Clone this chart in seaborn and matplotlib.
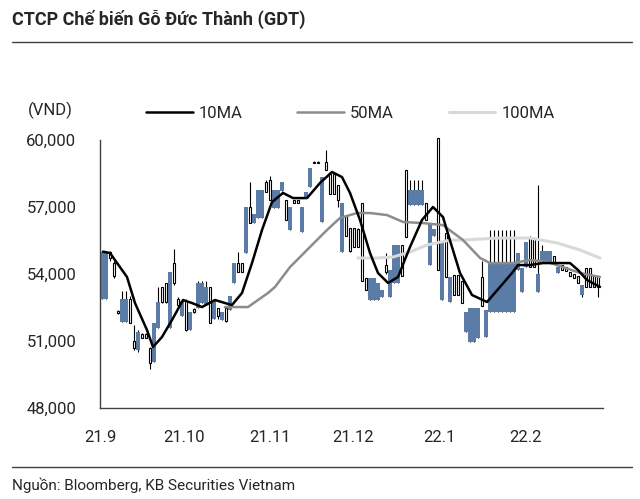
import numpy as np
import pandas as pd
import matplotlib
matplotlib.use("Agg")
import matplotlib.pyplot as plt
from matplotlib.lines import Line2D
import seaborn as sns

# daily prices (VND)
opens = [55000, 55000, 54700, 53900, 52250, 52900, 52900, 51800, 50700, 51400,
         51150, 51150, 50000, 51800, 52750, 52750, 52750, 54100, 53600, 52600,
         52800, 51500, 52300, 52300, 53600, 53600, 53400, 51800, 52800, 52100,
         52300, 51900, 53000, 54500, 54100, 54100, 57000, 56300, 56700, 57750,
         57750, 57650, 57300, 57750, 57750, 58100, 56400, 57000, 57200, 57200,
         57000, 57650, 58750, 58950, 58950, 58350, 58650, 57600, 57600, 57300,
         57200, 55700, 55050, 55200, 55200, 53700, 53300, 53800, 53800, 53600,
         53300, 54100, 54200, 55300, 55300, 53900, 55650, 57750, 57750, 57750,
         57750, 56400, 56300, 56000, 54200, 55450, 53870, 53870, 53050, 53050,
         52700, 52300, 52500, 52500, 52500, 52550, 52400, 54500, 54500, 54500,
         54500, 54500, 54500, 54500, 54950, 54250, 55450, 54300, 54300, 54000,
         55050, 55050, 55050, 54500, 54300, 54200, 54150, 53900, 53800, 53600,
         53500, 53400, 53400, 53400, 53400]
highs = [55000, 55000, 55050, 54600, 52400, 53250, 53250, 53000, 51700, 51500,
         51350, 51350, 50750, 51800, 53400, 53400, 53600, 54100, 55100, 52950,
         52800, 52900, 52300, 52500, 53700, 53700, 53700, 53400, 52800, 52500,
         52300, 52500, 53000, 54500, 55000, 54500, 57000, 58100, 56700, 57750,
         57750, 58200, 58400, 57750, 57750, 58100, 57300, 57000, 57300, 57300,
         57000, 57650, 58750, 59050, 59050, 58350, 59550, 58500, 58500, 58000,
         57200, 56600, 56050, 56050, 56050, 57200, 53800, 53800, 53800, 53600,
         53300, 54950, 54200, 55300, 55300, 55300, 58650, 58200, 58200, 58200,
         58200, 57200, 56300, 56000, 60100, 55450, 55840, 53870, 53950, 53950,
         53700, 52300, 52500, 52500, 52500, 54600, 52400, 55970, 55970, 55970,
         55970, 55970, 55970, 55970, 54950, 54250, 55450, 55700, 55600, 58000,
         55300, 55050, 55050, 54800, 54300, 54400, 54300, 54100, 54000, 53900,
         53500, 54250, 54250, 53900, 53900]
lows = [52900, 52900, 54600, 53800, 52200, 51850, 51850, 51800, 50600, 50500,
        51150, 51150, 49750, 50050, 51600, 52700, 52700, 51600, 53500, 52500,
        52100, 51450, 51500, 52250, 52500, 52700, 52600, 51800, 52000, 52000,
        51950, 51850, 52400, 53600, 54100, 54100, 54950, 56300, 56300, 56500,
        56500, 57650, 57300, 56950, 56950, 57700, 56400, 55950, 57200, 57200,
        55900, 57400, 57900, 58950, 58950, 56350, 58650, 57600, 57600, 57000,
        55000, 55700, 55000, 55200, 55200, 53700, 53300, 52850, 52850, 52850,
        52950, 54000, 52950, 53600, 53600, 53900, 55650, 57100, 57100, 57100,
        57100, 56400, 54400, 55700, 54200, 52850, 53870, 52750, 53050, 53050,
        52700, 51400, 50950, 50950, 51150, 52550, 51200, 52300, 52300, 52300,
        52300, 52300, 52300, 52300, 54200, 53200, 54300, 54300, 54300, 53200,
        54500, 54500, 54500, 54500, 54050, 54200, 54150, 53900, 53800, 53600,
        52970, 53400, 53400, 53400, 52970]
closes = [52900, 52900, 55000, 54500, 52350, 51850, 51850, 52900, 51000, 50600,
          51300, 51300, 50700, 50050, 51600, 53400, 53600, 51600, 54500, 52900,
          52100, 52800, 51500, 52450, 52500, 52700, 52600, 53400, 52000, 52500,
          51950, 52500, 52400, 53600, 54500, 54500, 54950, 57000, 56300, 56500,
          56500, 58100, 58200, 56950, 56950, 57700, 57300, 55950, 57300, 57300,
          55900, 57400, 57900, 59000, 59000, 56350, 59000, 58500, 58500, 58000,
          55000, 56600, 56050, 56050, 56000, 57200, 53800, 52850, 52850, 52850,
          52950, 54400, 52950, 53600, 53600, 55300, 58650, 57100, 57100, 57100,
          57100, 57200, 54400, 55700, 60100, 52850, 55840, 52750, 53950, 53950,
          53700, 51400, 50950, 50950, 51150, 53870, 51200, 52300, 52300, 52300,
          52300, 52300, 52300, 52300, 54200, 53200, 54300, 55600, 55600, 53200,
          54500, 54500, 54500, 54800, 54050, 54400, 54300, 54100, 54000, 53900,
          53050, 54250, 54250, 53900, 53900]

# moving averages, sampled along the curves (trading-day index, VND)
ma10_day = [0.25, 2, 6.25, 8.25, 11.25, 12.75, 15, 17.5, 20.25, 22.5, 25, 28.25,
            30.75, 32.5, 35, 37.5, 40, 42.5, 45.25, 47.75, 51.25, 54.5, 57.5, 60,
            62, 64.5, 67, 69, 71.5, 74, 77, 80, 82.75, 85.25, 87, 89.5, 92.5,
            96.25, 99.5, 102.5, 104, 107, 110.25, 113.75, 117, 119, 121.25, 124.5]
ma10_val = [55000, 54940, 53865, 52700, 51490, 50730, 51180, 51940, 52835, 52700,
            52520, 52835, 52700, 52610, 53150, 54490, 55970, 57220, 57630, 57400,
            57400, 58075, 58570, 58340, 57630, 56420, 54940, 54045, 53600, 53865,
            55210, 56420, 57000, 56550, 55500, 54045, 53060, 52745, 53420, 54045,
            54400, 54400, 54490, 54490, 54490, 54180, 53730, 53420]
ma50_day = [30.75, 36.5, 41.5, 43.25, 47, 52, 56.25, 59.5, 63.75, 67, 71.25,
            75.25, 80.25, 85.25, 90.25, 94.5, 97, 102.75, 107, 111.25, 115.25,
            119.5, 124.5]
ma50_val = [52520, 52520, 53150, 53420, 54310, 55210, 55970, 56510, 56730, 56730,
            56640, 56330, 56280, 56190, 55520, 54720, 54490, 54490, 54630, 54540,
            54310, 54045, 53865]
ma100_day = [64, 68.75, 72.75, 77, 81.25, 87, 90.25, 98.75, 107, 113.75, 119.5, 124.5]
ma100_val = [54715, 54715, 54760, 54985, 55300, 55520, 55520, 55610, 55610, 55390,
             55075, 54715]

month_pos = [-0.5, 20.5, 42, 62.75, 84.25, 105.75, 125.25]
month_labels = ["21.9", "21.10", "21.11", "21.12", "22.1", "22.2", ""]

sns.set_style("white")
plt.rcParams["font.family"] = ["Roboto", "DejaVu Sans"]

blue = "#5b7ca6"
df = pd.DataFrame({"day": np.arange(len(opens)), "open": opens, "high": highs,
                   "low": lows, "close": closes})
down = df[df["close"] < df["open"]]
up = df[df["close"] >= df["open"]]

fig = plt.figure(figsize=(6.4, 4.99), dpi=100)
ax = fig.add_axes([100 / 640, 1 - 408 / 499, 503 / 640, 268 / 499])

ax.vlines(df["day"], df["low"], df["high"], color="black", lw=0.8, zorder=1.5,
          clip_on=False)
ax.bar(down["day"], down["open"] - down["close"], bottom=down["close"], width=1.0,
       color=blue, linewidth=0, zorder=2)
ax.bar(up["day"], (up["close"] - up["open"]).clip(lower=40), bottom=up["open"],
       width=0.7, facecolor="white", edgecolor="black", linewidth=0.8, zorder=3,
       clip_on=False)

line_kw = dict(solid_joinstyle="round", solid_capstyle="round")
sns.lineplot(x=ma100_day, y=ma100_val, ax=ax, color="#d9d9d9", lw=2.2, zorder=4, **line_kw)
sns.lineplot(x=ma50_day, y=ma50_val, ax=ax, color="#8c8c8c", lw=1.8, zorder=5, **line_kw)
sns.lineplot(x=ma10_day, y=ma10_val, ax=ax, color="black", lw=1.8, zorder=6, **line_kw)

ax.set_xlim(-0.5, 125.25)
ax.set_ylim(48000, 60000)
ax.set_yticks(range(48000, 60001, 3000))
ax.set_yticklabels([f"{v:,}" for v in range(48000, 60001, 3000)], fontsize=12)
ax.set_xticks(month_pos)
ax.set_xticklabels(month_labels, fontsize=12)
ax.tick_params(axis="y", direction="inout", length=6, pad=14, color="#404040")
ax.tick_params(axis="x", direction="in", length=5, pad=16, color="#404040")
for s in ["top", "right"]:
    ax.spines[s].set_visible(False)
for s in ["left", "bottom"]:
    ax.spines[s].set_color("#404040")
    ax.spines[s].set_linewidth(1.0)

# legend
handles = [Line2D([], [], color="black", lw=1.8),
           Line2D([], [], color="#8c8c8c", lw=1.8),
           Line2D([], [], color="#d9d9d9", lw=2.2)]
fig.legend(handles, ["10MA", "50MA", "100MA"], loc="center left",
           bbox_to_anchor=(146 / 640, 1 - 113 / 499), ncol=3, frameon=False,
           fontsize=12, handlelength=2.8, handletextpad=0.35, columnspacing=3.3,
           borderpad=0, borderaxespad=0)
fig.text(50 / 640, 1 - 110 / 499, "(VND)", fontsize=12, ha="center", va="center")

# title, rules and source
fig.text(12 / 640, 1 - 19 / 499, "CTCP Chế biến Gỗ Đức Thành (GDT)", fontsize=13,
         fontweight="bold", ha="left", va="center")
fig.add_artist(Line2D([12 / 640, 632 / 640], [1 - 42 / 499] * 2, color="#404040", lw=1.0))
fig.add_artist(Line2D([12 / 640, 632 / 640], [1 - 467 / 499] * 2, color="#404040", lw=1.0))
fig.text(12 / 640, 1 - 485 / 499, "Nguồn: Bloomberg, KB Securities Vietnam", fontsize=11,
         ha="left", va="center")

fig.savefig("out.png", dpi=100)
